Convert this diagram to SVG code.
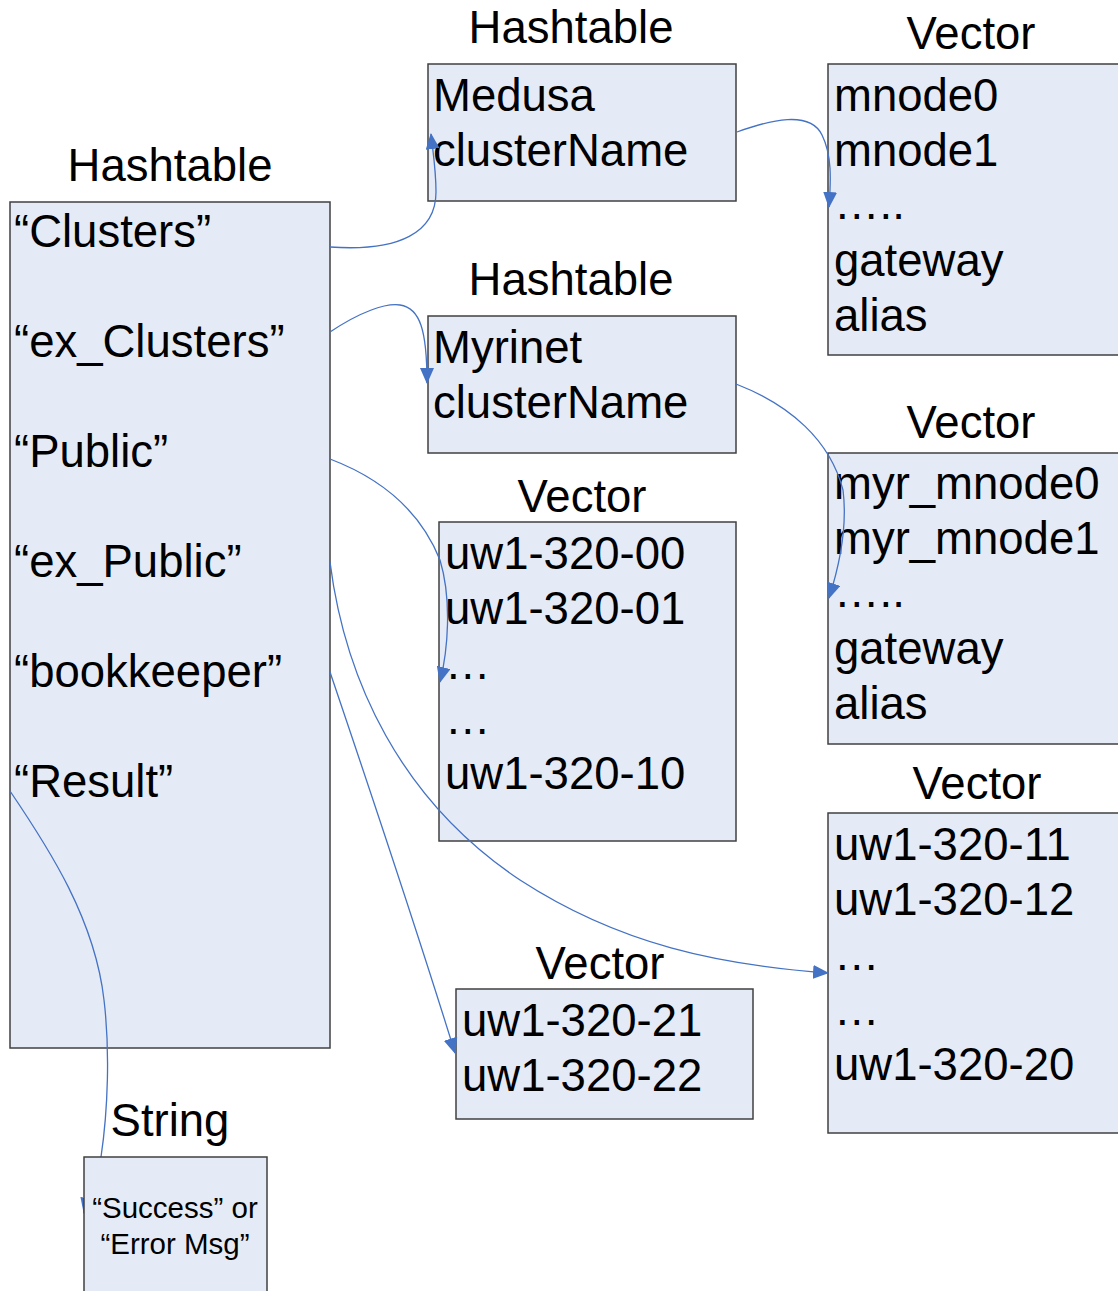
<svg xmlns="http://www.w3.org/2000/svg" width="1118" height="1291" viewBox="0 0 1118 1291">
<style>
.box{fill:#E5EBF6;stroke:#404040;stroke-width:1.5}
.t{font-family:"Liberation Sans",Arial,sans-serif;font-size:45.5px;fill:#000}
.title{text-anchor:middle}
.s{font-family:"Liberation Sans",Arial,sans-serif;font-size:29.5px;fill:#000;text-anchor:middle}
.c{fill:none;stroke:#4472C4;stroke-width:1.3;marker-end:url(#ah)}
</style>
<defs>
<marker id="ah" markerUnits="userSpaceOnUse" markerWidth="16" markerHeight="14" refX="15" refY="7" orient="auto">
<path d="M0,0 L16,7 L0,14 Z" fill="#4472C4"/>
</marker>
</defs>
<rect width="1118" height="1291" fill="#fff"/>

<g id="main-hashtable">
<text class="t title" x="170" y="181">Hashtable</text>
<rect class="box" x="10" y="202" width="320" height="846"/>
<text class="t" x="14" y="247">“Clusters”</text>
<text class="t" x="14" y="357">“ex_Clusters”</text>
<text class="t" x="14" y="467">“Public”</text>
<text class="t" x="14" y="577">“ex_Public”</text>
<text class="t" x="14" y="687">“bookkeeper”</text>
<text class="t" x="14" y="797">“Result”</text>
</g>

<g id="medusa-hashtable">
<text class="t title" x="571" y="43">Hashtable</text>
<rect class="box" x="428" y="64" width="308" height="137"/>
<text class="t" x="433" y="111">Medusa</text>
<text class="t" x="433" y="166">clusterName</text>
</g>

<g id="medusa-vector">
<text class="t title" x="971" y="49">Vector</text>
<rect class="box" x="828" y="64" width="300" height="291"/>
<text class="t" x="834" y="111">mnode0</text>
<text class="t" x="834" y="166">mnode1</text>
<text class="t" x="834" y="219">…..</text>
<text class="t" x="834" y="276">gateway</text>
<text class="t" x="834" y="331">alias</text>
</g>

<g id="myrinet-hashtable">
<text class="t title" x="571" y="295">Hashtable</text>
<rect class="box" x="428" y="316" width="308" height="137"/>
<text class="t" x="433" y="363">Myrinet</text>
<text class="t" x="433" y="418">clusterName</text>
</g>

<g id="myrinet-vector">
<text class="t title" x="971" y="438">Vector</text>
<rect class="box" x="828" y="453" width="300" height="291"/>
<text class="t" x="834" y="499">myr_mnode0</text>
<text class="t" x="834" y="554">myr_mnode1</text>
<text class="t" x="834" y="607">…..</text>
<text class="t" x="834" y="664">gateway</text>
<text class="t" x="834" y="719">alias</text>
</g>

<g id="public-vector">
<text class="t title" x="582" y="512">Vector</text>
<rect class="box" x="439" y="522" width="297" height="319"/>
<text class="t" x="445" y="569">uw1-320-00</text>
<text class="t" x="445" y="624">uw1-320-01</text>
<text class="t" x="445" y="679">…</text>
<text class="t" x="445" y="734">…</text>
<text class="t" x="445" y="789">uw1-320-10</text>
</g>

<g id="expublic-vector">
<text class="t title" x="977" y="799">Vector</text>
<rect class="box" x="828" y="813" width="300" height="320"/>
<text class="t" x="834" y="860">uw1-320-11</text>
<text class="t" x="834" y="915">uw1-320-12</text>
<text class="t" x="834" y="970">…</text>
<text class="t" x="834" y="1025">…</text>
<text class="t" x="834" y="1080">uw1-320-20</text>
</g>

<g id="bookkeeper-vector">
<text class="t title" x="600" y="979">Vector</text>
<rect class="box" x="456" y="989" width="297" height="130"/>
<text class="t" x="462" y="1036">uw1-320-21</text>
<text class="t" x="462" y="1091">uw1-320-22</text>
</g>

<g id="connectors">
<path class="c" d="M330,247 C400,252 436,232 436,192 C436,170 433,152 431,134"/>
<path class="c" d="M737,132 C770,120 810,110 822,135 C832,155 831,180 829,207"/>
<path class="c" d="M330,332 C360,312 385,303 400,305 C420,308 427,330 427,383"/>
<path class="c" d="M736,384 C790,405 830,440 843,490 C848,530 838,570 829,598"/>
<path class="c" d="M330,459 C380,478 420,510 440,560 C452,600 448,650 440,682"/>
<path class="c" d="M330,562 C345,680 400,800 520,880 C620,945 720,965 828,973"/>
<path class="c" d="M330,672 C370,790 420,940 455,1053"/>
<path class="c" d="M10,791 C50,850 95,920 104,1000 C110,1050 108,1110 101,1157 C95,1180 88,1195 84,1213"/>
</g>

<g id="string">
<text class="t title" x="170" y="1136">String</text>
<rect class="box" x="84" y="1157" width="183" height="150"/>
<text class="s" x="175" y="1218">“Success” or</text>
<text class="s" x="175" y="1254">“Error Msg”</text>
</g>
</svg>
